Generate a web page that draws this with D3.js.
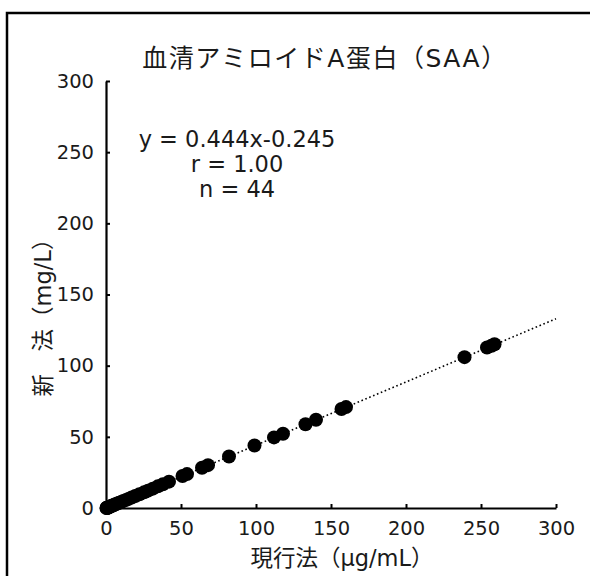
<!DOCTYPE html>
<html lang="ja">
<head>
<meta charset="utf-8">
<style>
  body { margin: 0; background: #fff; }
  text { font-family: "DejaVu Sans", "Noto Sans CJK JP", sans-serif; fill: #1a1a1a; }
</style>
</head>
<body>
<script src="https://d3js.org/d3.v7.min.js"></script>
<script>
// current method (ug/mL) vs new method (mg/L)
var currentVals = [0.3, 0.5, 0.8, 1.0, 1.2, 1.5, 2.0, 2.5, 3.1, 3.8, 4.5, 5.2, 6.3, 7.5,
  8.8, 10.2, 11.6, 13.4, 15.0, 17.1, 19.5, 22.3, 25.4, 28.0, 31.2, 34.6, 37.9, 42.0,
  51, 54, 64, 68, 82, 99, 112, 118, 133, 140, 157, 160, 239, 254, 257, 259];
var newVals = [0.0, 0.1, 0.2, 0.2, 0.3, 0.4, 0.6, 0.9, 1.2, 1.5, 1.8, 2.1, 2.6, 3.2,
  3.7, 4.3, 5.0, 5.7, 6.4, 7.4, 8.4, 9.7, 11.0, 12.2, 13.6, 15.2, 16.6, 18.5,
  22.5, 23.8, 28.3, 30.1, 36.2, 43.9, 49.6, 52.2, 58.8, 62.0, 69.6, 70.9, 106.0, 112.8, 114.0, 115.0];
var xTicks = [0, 50, 100, 150, 200, 250, 300];
var yTicks = [0, 50, 100, 150, 200, 250, 300];
var slope = 0.444, intercept = -0.245;

var width = 590, height = 576;

var svg = d3.select("body").append("svg")
    .attr("width", width)
    .attr("height", height);

// outer frame
svg.append("rect")
    .attr("x", 7).attr("y", 13)
    .attr("width", 620).attr("height", 620)
    .attr("fill", "none")
    .attr("stroke", "#000")
    .attr("stroke-width", 2.5);

var x = d3.scaleLinear().domain([0, 300]).range([106, 556]);
var y = d3.scaleLinear().domain([0, 300]).range([508, 81]);

// regression line
svg.append("line")
    .attr("x1", x(0)).attr("y1", y(slope * 0 + intercept))
    .attr("x2", x(300)).attr("y2", y(slope * 300 + intercept))
    .attr("stroke", "#000")
    .attr("stroke-width", 1.6)
    .attr("stroke-dasharray", "1.6,2.6");

// points
var pts = currentVals.map(function (v, i) { return [v, newVals[i]]; });
svg.selectAll("circle.pt")
    .data(pts)
    .enter()
    .append("circle")
    .attr("class", "pt")
    .attr("cx", function (d) { return x(d[0]); })
    .attr("cy", function (d) { return y(d[1]); })
    .attr("r", 7)
    .attr("fill", "#000");

// axes
var xAxis = svg.append("g")
    .attr("transform", "translate(0," + y(0) + ")")
    .call(d3.axisBottom(x).tickValues(xTicks).tickSizeInner(-4).tickSizeOuter(0).tickPadding(13));
var yAxis = svg.append("g")
    .attr("transform", "translate(" + x(0) + ",0)")
    .call(d3.axisLeft(y).tickValues(yTicks).tickSizeInner(-4).tickSizeOuter(0).tickPadding(12));

[xAxis, yAxis].forEach(function (g) {
  g.select(".domain").attr("stroke", "#000").attr("stroke-width", 2.2);
  g.selectAll(".tick line").attr("stroke", "#000").attr("stroke-width", 2);
  g.selectAll(".tick text")
      .attr("font-size", 19.5)
      .attr("fill", "#333")
      .style("font-family", "'DejaVu Sans', sans-serif");
});

// title
svg.append("text")
    .attr("x", 325).attr("y", 67)
    .attr("text-anchor", "middle")
    .attr("font-size", 25)
    .attr("letter-spacing", 1.5)
    .text("血清アミロイドA蛋白（SAA）");

// regression text
svg.append("text").attr("x", 237).attr("y", 147).attr("text-anchor", "middle")
    .attr("font-size", 22.5).text("y = 0.444x-0.245");
svg.append("text").attr("x", 237).attr("y", 172).attr("text-anchor", "middle")
    .attr("font-size", 22.5).text("r = 1.00");
svg.append("text").attr("x", 237).attr("y", 197).attr("text-anchor", "middle")
    .attr("font-size", 22.5).text("n = 44");

// axis titles
svg.append("text")
    .attr("x", 342).attr("y", 566)
    .attr("text-anchor", "middle")
    .attr("font-size", 22.5)
    .attr("fill", "#333")
    .text("現行法（μg/mL）");

svg.append("text")
    .attr("transform", "translate(51,312) rotate(-90)")
    .attr("text-anchor", "middle")
    .attr("font-size", 22.5)
    .attr("fill", "#333")
    .text("新　法（mg/L）");
</script>
</body>
</html>
